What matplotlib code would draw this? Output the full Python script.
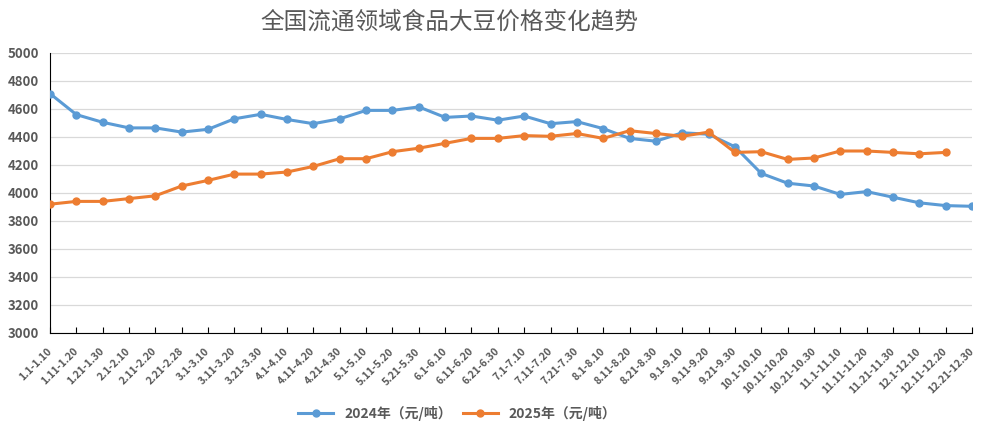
import matplotlib
matplotlib.use("Agg")
import matplotlib.pyplot as plt
import matplotlib.transforms as mtransforms

plt.rcParams['font.family'] = ['Noto Sans CJK SC', 'DejaVu Sans']

periods = ["1.1-1.10", "1.11-1.20", "1.21-1.30", "2.1-2.10", "2.11-2.20", "2.21-2.28",
           "3.1-3.10", "3.11-3.20", "3.21-3.30", "4.1-4.10", "4.11-4.20", "4.21-4.30",
           "5.1-5.10", "5.11-5.20", "5.21-5.30", "6.1-6.10", "6.11-6.20", "6.21-6.30",
           "7.1-7.10", "7.11-7.20", "7.21-7.30", "8.1-8.10", "8.11-8.20", "8.21-8.30",
           "9.1-9.10", "9.11-9.20", "9.21-9.30", "10.1-10.10", "10.11-10.20", "10.21-10.30",
           "11.1-11.10", "11.11-11.20", "11.21-11.30", "12.1-12.10", "12.11-12.20", "12.21-12.30"]

price_2024 = [4710, 4560, 4505, 4465, 4465, 4435, 4455, 4530, 4562, 4525, 4495, 4530,
              4590, 4590, 4615, 4540, 4550, 4520, 4550, 4495, 4510, 4460, 4390, 4370,
              4430, 4420, 4330, 4140, 4070, 4050, 3990, 4010, 3970, 3930, 3910, 3905]

price_2025 = [3920, 3940, 3940, 3960, 3980, 4050, 4090, 4135, 4135, 4150, 4190, 4245,
              4245, 4295, 4320, 4355, 4390, 4390, 4410, 4405, 4425, 4390, 4445, 4425,
              4405, 4435, 4290, 4295, 4240, 4250, 4300, 4300, 4290, 4280, 4290]

label_2024 = "2024年（元/吨）"
label_2025 = "2025年（元/吨）"
title = "全国流通领域食品大豆价格变化趋势"

fig = plt.figure(figsize=(9.84, 4.37), dpi=100)
ax = fig.add_axes([50 / 984, 104 / 437, 922 / 984, 280 / 437])

ax.plot(range(len(price_2024)), price_2024, color="#5B9BD5", lw=2.2, marker="o",
        ms=5, label=label_2024, zorder=3)
ax.plot(range(len(price_2025)), price_2025, color="#ED7D31", lw=2.2, marker="o",
        ms=5, label=label_2025, zorder=3)

ax.set_xlim(0, len(periods) - 1)
ax.set_ylim(3000, 5000)
ax.set_yticks(range(3000, 5001, 200))
ax.set_xticks(range(len(periods)))
ax.set_xticklabels(periods, rotation=45, ha="right", va="center", rotation_mode="anchor",
                   fontsize=7.5, fontweight="bold", color="#595959")
# shift x labels a little to the right, like the original
shift = mtransforms.ScaledTranslation(5 / 100, 0, fig.dpi_scale_trans)
for t in ax.get_xticklabels():
    t.set_transform(t.get_transform() + shift)
for t in ax.get_yticklabels():
    t.set_fontsize(9.5)
    t.set_fontweight("bold")
    t.set_color("#595959")

ax.grid(axis="y", color="#d9d9d9", lw=0.9)
ax.set_axisbelow(True)
for s in ["top", "right"]:
    ax.spines[s].set_visible(False)
ax.spines["left"].set_color("black")
ax.spines["bottom"].set_color("black")
ax.tick_params(axis="y", length=0, pad=8)
ax.tick_params(axis="x", direction="in", length=4, color="black", pad=12)

fig.text(0.457, 0.95, title, ha="center", va="center", fontsize=17, color="#595959")

fig.legend(loc="center", bbox_to_anchor=(0.465, 0.053), ncol=2, frameon=False,
           prop={"size": 10, "weight": "bold"}, labelcolor="#595959",
           handlelength=2.5, columnspacing=0.8)

fig.savefig("out.png", dpi=100)
